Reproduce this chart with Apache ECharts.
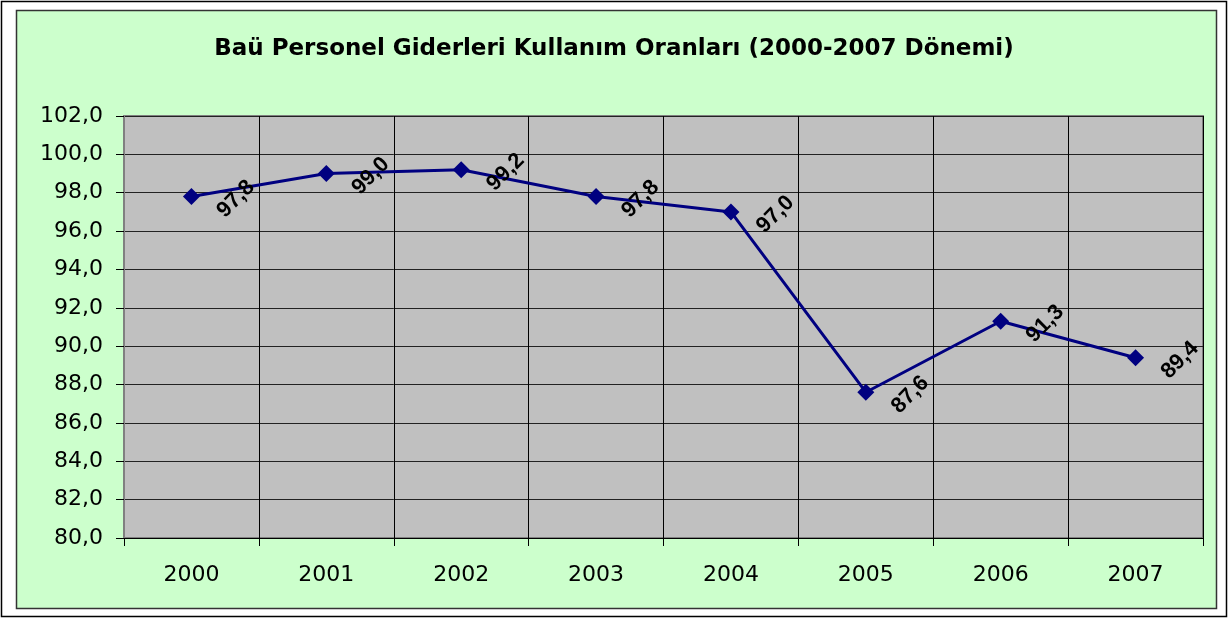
<!DOCTYPE html>
<html>
<head>
<meta charset="utf-8">
<script src="https://cdn.jsdelivr.net/npm/echarts@6/dist/echarts.min.js"></script>
<style>
  html, body { margin: 0; padding: 0; background: #fff; }
  #main { width: 1228px; height: 618px; }
</style>
</head>
<body>
<div id="main"></div>
<script>
// veriler
var years = ['2000', '2001', '2002', '2003', '2004', '2005', '2006', '2007'];
var oranlar = [97.8, 99.0, 99.2, 97.8, 97.0, 87.6, 91.3, 89.4];
var baslik = 'Baü Personel Giderleri Kullanım Oranları (2000-2007 Dönemi)';

var yazi = 'DejaVu Sans, Liberation Sans, Arial';

function virgul(v) {
    return v.toFixed(1).replace('.', ',');
}

var myChart = echarts.init(document.getElementById('main'));

var option = {
    backgroundColor: '#FFFFFF',
    animation: false,
    // dış çerçeve ve yeşil zemin
    graphic: [
        {type: 'rect', z: -10, shape: {x: 1.5, y: 1.5, width: 1225, height: 615},
         style: {fill: '#FFFFFF', stroke: '#000', lineWidth: 1.5}},
        {type: 'rect', z: -9, shape: {x: 16.5, y: 10.5, width: 1200, height: 598},
         style: {fill: '#CCFFCC', stroke: '#333', lineWidth: 1.5}}
    ],
    title: {
        text: baslik,
        left: 'center',
        top: 33,
        textStyle: {fontFamily: yazi, fontWeight: 'bold', fontSize: 23, color: '#000'}
    },
    grid: {
        left: 124, right: 25, top: 116, bottom: 80,
        show: true,
        backgroundColor: '#C0C0C0',
        borderColor: '#808080',
        borderWidth: 2
    },
    xAxis: {
        type: 'category',
        data: years,
        boundaryGap: true,
        axisLine: {show: true, lineStyle: {color: '#000', width: 1}},
        axisTick: {show: true, length: 8, lineStyle: {color: '#000'}},
        splitLine: {show: true, lineStyle: {color: '#000', width: 1}},
        axisLabel: {margin: 26, fontFamily: yazi, fontSize: 22, color: '#000'}
    },
    yAxis: {
        type: 'value',
        min: 80,
        max: 102,
        interval: 2,
        axisLine: {show: true, lineStyle: {color: '#808080', width: 1}},
        axisTick: {show: true, length: 8, lineStyle: {color: '#000'}},
        splitLine: {show: true, lineStyle: {color: '#222', width: 1}},
        axisLabel: {
            margin: 21,
            fontFamily: yazi,
            fontSize: 22,
            color: '#000',
            formatter: function (v) { return virgul(v); }
        }
    },
    series: [{
        name: 'Oran',
        type: 'line',
        data: oranlar,
        symbol: 'diamond',
        symbolSize: 17,
        itemStyle: {color: '#000080'},
        lineStyle: {color: '#000080', width: 3},
        label: {
            show: true,
            position: [53, 11],
            align: 'center',
            verticalAlign: 'middle',
            rotate: 45,
            fontFamily: 'Liberation Sans, Arial',
            fontWeight: 'bold',
            fontSize: 22,
            color: '#000',
            formatter: function (p) { return virgul(p.value); }
        }
    }]
};

myChart.setOption(option);
</script>
</body>
</html>
